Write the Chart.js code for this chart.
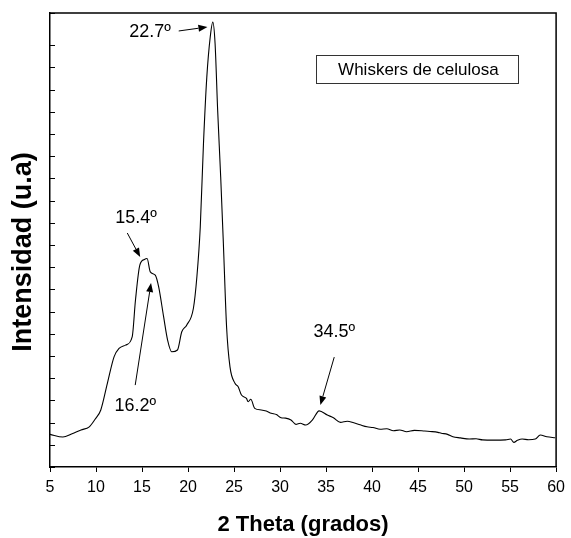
<!DOCTYPE html>
<html>
<head>
<meta charset="utf-8">
<script src="https://cdn.jsdelivr.net/npm/chart.js@4"></script>
<style>
  html, body { margin: 0; padding: 0; background: #fff; }
  #wrap { width: 571px; height: 538px; }
</style>
</head>
<body>
<div id="wrap"><canvas id="xrdChart" width="571" height="538"></canvas></div>
<script>
// 2 theta (deg) and intensity
const twoTheta = [5.0, 6.4, 7.4, 8.37, 9.27, 9.9, 10.52, 11.24, 11.96, 12.5, 13.21, 13.93,
    14.29, 14.76, 15.26, 15.55, 15.9, 16.44, 16.81, 17.35, 17.78, 18.24,
    18.85, 19.32, 19.85, 20.58, 20.96, 21.33, 21.68, 22.04, 22.41, 22.69,
    22.94, 23.22, 23.55, 23.84, 24.19, 24.56, 25.1, 25.45, 25.81, 26.35,
    26.53, 26.82, 27.25, 27.96, 28.5, 29.04, 29.6, 30.11, 30.6, 31.19, 31.73, 32.2, 32.8, 33.52,
    34.25, 35.14, 35.8, 36.57, 37.3, 38.01, 38.7, 39.45, 40.1, 40.88, 41.6, 42.32, 43.0, 43.75,
    44.6, 45.72, 46.3, 47.16, 47.52, 48.2, 48.78, 49.6, 50.57, 51.3, 52.01, 53.2, 54.52, 55.05,
    55.41, 55.8, 56.31, 57.0, 57.74, 58.28, 59.0, 59.9];
const intensity = [147, 135, 150, 167, 181, 215, 257, 378, 496, 534, 549, 586,
    752, 909, 935, 939, 879, 864, 811, 676, 572, 519,
    527, 609, 639, 714, 856, 1081, 1458, 1756, 1936, 2004,
    1908, 1607, 1306, 1008, 631, 451, 377, 361, 324, 309,
    294, 305, 264, 257, 252, 242, 236, 222, 220, 212, 192, 197, 189, 212,
    253, 234, 222, 201, 206, 199, 190, 181, 178, 170, 172, 163, 167, 159,
    165, 162, 160, 156, 152, 147, 136, 131, 126, 127, 122, 121, 122, 126,
    111, 120, 126, 123, 126, 144, 136, 132];
const xTicks = [5, 10, 15, 20, 25, 30, 35, 40, 45, 50, 55, 60];
const peakLabels = ['22.7º', '15.4º', '16.2º', '34.5º'];
const seriesName = 'Whiskers de celulosa';

const FONT = "'Liberation Sans', Arial, sans-serif";

class XrdChart {
    constructor() {
        this.canvas = document.getElementById('xrdChart');
        this.init();
    }

    init() {
        this.createChart();
    }

    // label anchors and arrows, in data units (2 theta, intensity)
    annotations() {
        return [
            { text: peakLabels[0], at: [15.87, 1959], from: [18.99, 1964], to: [22.11, 1982] },
            { text: peakLabels[1], at: [14.36, 1121], from: [13.40, 1054], to: [14.80, 946] },
            { text: peakLabels[2], at: [14.26, 275], from: [14.26, 369], to: [15.98, 829] },
            { text: peakLabels[3], at: [35.89, 608], from: [35.89, 495], to: [34.38, 279] }
        ];
    }

    framePlugin() {
        return {
            id: 'frame',
            afterDraw(chart) {
                const { ctx, chartArea: a, scales } = chart;
                ctx.save();
                ctx.strokeStyle = '#000';
                ctx.lineWidth = 1.5;
                ctx.beginPath();
                ctx.moveTo(a.left, a.top);
                ctx.lineTo(a.right, a.top);
                ctx.lineTo(a.right, a.bottom);
                ctx.stroke();
                // inward ticks on the intensity axis
                ctx.lineWidth = 1;
                scales.y.ticks.forEach(t => {
                    const py = Math.round(scales.y.getPixelForValue(t.value)) + 0.5;
                    ctx.beginPath();
                    ctx.moveTo(a.left, py);
                    ctx.lineTo(a.left + 5, py);
                    ctx.stroke();
                });
                // y title, set a little below the axis centre as in the original
                ctx.fillStyle = '#000';
                ctx.font = 'bold 27px ' + FONT;
                ctx.textAlign = 'center';
                ctx.textBaseline = 'middle';
                ctx.translate(scales.y.left + 24, (a.top + a.bottom) / 2 + 12);
                ctx.rotate(-Math.PI / 2);
                ctx.fillText('Intensidad (u.a)', 0, 0);
                ctx.restore();
            }
        };
    }

    annotationPlugin(items) {
        return {
            id: 'peaks',
            afterDatasetsDraw(chart) {
                const { ctx, scales: { x, y } } = chart;
                const px = p => [x.getPixelForValue(p[0]), y.getPixelForValue(p[1])];
                ctx.save();
                ctx.fillStyle = '#000';
                ctx.strokeStyle = '#000';
                ctx.lineWidth = 1;
                ctx.font = '18px ' + FONT;
                ctx.textAlign = 'center';
                ctx.textBaseline = 'middle';
                items.forEach(it => {
                    const [tx, ty] = px(it.at);
                    ctx.fillText(it.text, tx, ty);
                    const [x0, y0] = px(it.from);
                    const [x1, y1] = px(it.to);
                    const ang = Math.atan2(y1 - y0, x1 - x0);
                    const head = 9, half = 3.5;
                    const bx = x1 - head * Math.cos(ang), by = y1 - head * Math.sin(ang);
                    ctx.beginPath();
                    ctx.moveTo(x0, y0);
                    ctx.lineTo(bx, by);
                    ctx.stroke();
                    ctx.beginPath();
                    ctx.moveTo(x1, y1);
                    ctx.lineTo(bx - half * Math.sin(ang), by + half * Math.cos(ang));
                    ctx.lineTo(bx + half * Math.sin(ang), by - half * Math.cos(ang));
                    ctx.closePath();
                    ctx.fill();
                });

                // legend box
                const [l, t] = px([33.95, 1856]);
                const [r, b] = px([55.91, 1730]);
                ctx.strokeStyle = '#333';
                ctx.strokeRect(Math.round(l) + 0.5, Math.round(t) + 0.5, Math.round(r - l), Math.round(b - t));
                ctx.font = '17px ' + FONT;
                ctx.fillText(seriesName, (l + r) / 2 + 1, (t + b) / 2 + 1);
                ctx.restore();
            }
        };
    }

    createChart() {
        const points = twoTheta.map((v, i) => ({ x: v, y: intensity[i] }));

        new Chart(this.canvas, {
            type: 'line',
            data: {
                datasets: [{
                    label: seriesName,
                    data: points,
                    borderColor: '#000',
                    borderWidth: 1.1,
                    pointRadius: 0,
                    cubicInterpolationMode: 'monotone',
                    fill: false
                }]
            },
            options: {
                responsive: false,
                animation: false,
                layout: { padding: { top: 13, right: 10, left: 0, bottom: 0 } },
                plugins: {
                    legend: { display: false },
                    tooltip: { enabled: false }
                },
                scales: {
                    x: {
                        type: 'linear',
                        min: 5,
                        max: 60,
                        afterBuildTicks: scale => {
                            scale.ticks = xTicks.map(v => ({ value: v }));
                        },
                        afterFit: scale => { scale.height = 71; },
                        grid: {
                            drawOnChartArea: false,
                            drawTicks: true,
                            tickLength: 5,
                            tickColor: '#000',
                            tickWidth: 1
                        },
                        border: { display: true, color: '#000', width: 1.5 },
                        ticks: {
                            color: '#000',
                            padding: 6,
                            maxRotation: 0,
                            font: { size: 16, family: FONT }
                        },
                        title: {
                            display: true,
                            text: '2 Theta (grados)',
                            color: '#000',
                            padding: { top: 0, bottom: 0 },
                            font: { size: 22, weight: 'bold', family: FONT }
                        }
                    },
                    y: {
                        min: 0,
                        max: 2045,
                        afterFit: scale => { scale.width = 50; },
                        grid: { display: false },
                        border: { display: true, color: '#000', width: 1.5 },
                        ticks: { display: false, stepSize: 100 },
                        title: { display: false }
                    }
                }
            },
            plugins: [this.framePlugin(), this.annotationPlugin(this.annotations())]
        });
    }
}

document.addEventListener('DOMContentLoaded', () => {
    new XrdChart();
});
</script>
</body>
</html>
